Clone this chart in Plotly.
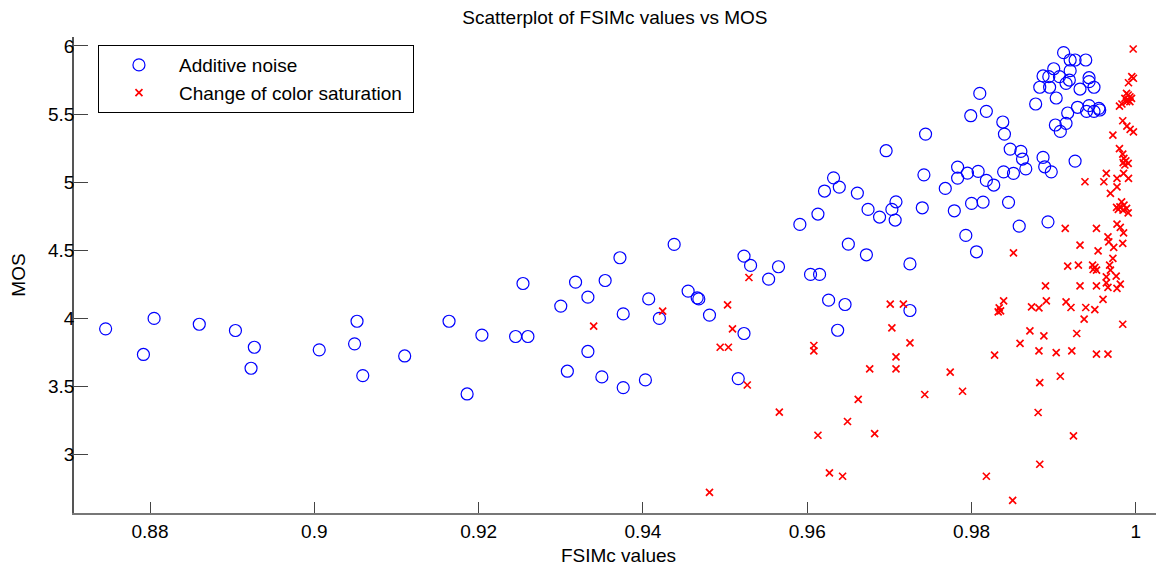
import plotly.graph_objects as go

# ---- data ----
noise_fsim = [
    0.8746, 0.8792, 0.8805, 0.8860, 0.8904, 0.8927, 0.8923, 0.9006, 0.9052, 0.9049,
    0.9059, 0.9110, 0.9164, 0.9204, 0.9186,
    0.9254, 0.9245, 0.9260, 0.9300, 0.9318, 0.9333, 0.9354, 0.9372, 0.9376, 0.9333,
    0.9308, 0.9350, 0.9376, 0.9403, 0.9407, 0.9438, 0.9420, 0.9455, 0.9466, 0.9468,
    0.9481, 0.9523, 0.9531, 0.9553, 0.9565, 0.9523, 0.9516,
    0.9799, 0.9818, 0.9744, 0.9696, 0.9632, 0.9639, 0.9621, 0.9661, 0.9742, 0.9783,
    0.9783, 0.9795, 0.9808, 0.9818, 0.9827, 0.9768, 0.9708, 0.9703, 0.9707, 0.9674,
    0.9688, 0.9740, 0.9779, 0.9800, 0.9814, 0.9793, 0.9806, 0.9613, 0.9591, 0.9650,
    0.9672, 0.9604, 0.9615, 0.9725, 0.9626, 0.9646, 0.9637, 0.9725,
    0.9912, 0.9920, 0.9926, 0.9939, 0.9900, 0.9887, 0.9894, 0.9907, 0.9920, 0.9919,
    0.9915, 0.9883, 0.9895, 0.9943, 0.9943, 0.9949, 0.9932, 0.9903, 0.9878, 0.9917,
    0.9929, 0.9943, 0.9940, 0.9949, 0.9955, 0.9956, 0.9902, 0.9915, 0.9908, 0.9810,
    0.9838, 0.9840, 0.9847, 0.9860, 0.9862, 0.9866, 0.9887, 0.9889, 0.9897, 0.9926,
    0.9839, 0.9851,
    0.9845, 0.9858, 0.9893,
]
noise_mos = [
    3.923, 3.735, 4.000, 3.957, 3.911, 3.788, 3.634, 3.769, 3.979, 3.813,
    3.580, 3.724, 3.979, 3.877, 3.445,
    4.256, 3.867, 3.867, 4.090, 4.266, 4.156, 4.278, 4.445, 4.033, 3.757,
    3.612, 3.570, 3.492, 3.548, 4.143, 4.543, 4.000, 4.200, 4.151, 4.143,
    4.024, 4.457, 4.389, 4.288, 4.379, 3.889, 3.558,
    5.488, 5.520, 5.353, 5.231, 5.032, 4.964, 4.935, 4.920, 5.054, 5.111,
    5.030, 5.067, 5.079, 5.013, 4.979, 4.954, 4.856, 4.800, 4.722, 4.800,
    4.744, 4.812, 4.790, 4.844, 4.854, 4.609, 4.489, 4.766, 4.690, 4.545,
    4.467, 4.323, 4.323, 4.400, 4.134, 4.102, 3.913, 4.058,
    5.951, 5.897, 5.897, 5.897, 5.833, 5.780, 5.775, 5.775, 5.819, 5.750,
    5.726, 5.697, 5.697, 5.767, 5.738, 5.697, 5.684, 5.618, 5.574, 5.508,
    5.550, 5.562, 5.520, 5.520, 5.542, 5.530, 5.420, 5.432, 5.373, 5.652,
    5.442, 5.353, 5.243, 5.226, 5.170, 5.098, 5.182, 5.113, 5.076, 5.155,
    5.076, 5.065,
    4.852, 4.677, 4.709,
]

sat_fsim = [
    0.9340, 0.9424, 0.9529, 0.9503, 0.9509, 0.9494, 0.9504, 0.9527, 0.9566, 0.9481,
    0.9701, 0.9717, 0.9703, 0.9725, 0.9708, 0.9708, 0.9676, 0.9608, 0.9608, 0.9662,
    0.9649, 0.9613, 0.9682, 0.9627, 0.9643, 0.9743, 0.9774, 0.9789, 0.9818, 0.9828,
    0.99967, 0.9995, 0.9997, 0.9991,
    0.99886, 0.99906, 0.99927, 0.99866, 0.99906, 0.99947, 0.99886, 0.99927,
    0.9983, 0.9980, 0.9984, 0.9989, 0.9993, 0.9997, 0.9972, 0.9980, 0.9984,
    0.99854, 0.99878, 0.99845, 0.99906, 0.99866,
    0.9964, 0.9985,
    0.9938, 0.9961, 0.9977, 0.9991, 0.9977, 0.9969,
    0.99826, 0.99765, 0.99806, 0.99855, 0.99887, 0.99843, 0.99906, 0.99786,
    0.9977, 0.9981, 0.9985, 0.9966, 0.9952, 0.9914, 0.9967, 0.9973, 0.9984, 0.9932,
    0.9954, 0.9851, 0.9972, 0.9917, 0.9930,
    0.99473, 0.99501, 0.99480, 0.99521,
    0.9968, 0.9969, 0.9964, 0.9976, 0.9964, 0.9981, 0.9977, 0.9966, 0.9890, 0.9932,
    0.9952, 0.9960, 0.9891, 0.9839,
    0.98336, 0.98353, 0.98324,
    0.9873, 0.9882, 0.9915, 0.9921, 0.9939, 0.9950, 0.9937, 0.9984, 0.9871, 0.9888,
    0.9928,
    0.9859, 0.9882, 0.9903, 0.9922, 0.9952, 0.9966, 0.9908, 0.9883, 0.9881, 0.9924,
    0.9883, 0.9850,
]
sat_mos = [
    3.943, 4.053, 4.300, 4.099, 3.923, 3.788, 3.788, 3.511, 3.311, 2.723,
    4.104, 4.104, 3.930, 3.820, 3.717, 3.629, 3.629, 3.801, 3.761, 3.406,
    3.243, 3.142, 3.154, 2.865, 2.841, 3.441, 3.605, 3.465, 2.841, 3.730,
    5.978, 5.775, 5.763, 5.730,
    5.652, 5.640, 5.627, 5.616, 5.603, 5.616, 5.591, 5.591,
    5.574, 5.559, 5.451, 5.412, 5.388, 5.370, 5.346, 5.246, 5.206,
    5.175, 5.157, 5.143, 5.138, 5.126,
    5.065, 5.065,
    5.003, 5.003, 5.028, 5.028, 4.966, 4.918,
    4.856, 4.815, 4.819, 4.832, 4.807, 4.795, 4.775, 4.800,
    4.692, 4.668, 4.628, 4.599, 4.661, 4.661, 4.562, 4.521, 4.550, 4.538,
    4.496, 4.481, 4.440, 4.384, 4.391,
    4.391, 4.374, 4.359, 4.354,
    4.391, 4.354, 4.305, 4.310, 4.261, 4.251, 4.220, 4.227, 4.239, 4.239,
    4.239, 4.139, 4.129, 4.129,
    4.077, 4.055, 4.048,
    4.085, 4.077, 4.121, 4.080, 4.080, 4.065, 3.994, 3.957, 3.908, 3.871,
    3.889,
    3.816, 3.761, 3.749, 3.761, 3.737, 3.737, 3.575, 3.529, 3.309, 3.137,
    2.929, 2.664,
]

x_ticks = [0.88, 0.90, 0.92, 0.94, 0.96, 0.98, 1.00]
x_tick_labels = ["0.88", "0.9", "0.92", "0.94", "0.96", "0.98", "1"]
y_ticks = [3, 3.5, 4, 4.5, 5, 5.5, 6]
y_tick_labels = ["3", "3.5", "4", "4.5", "5", "5.5", "6"]

FONT = "Liberation Sans, Arial, sans-serif"

fig = go.Figure()
fig.add_trace(go.Scatter(
    x=noise_fsim, y=noise_mos, mode="markers", name="Additive noise",
    marker=dict(symbol="circle-open", size=12, color="#0000ff",
                line=dict(width=1.2, color="#0000ff")),
))
fig.add_trace(go.Scatter(
    x=sat_fsim, y=sat_mos, mode="markers",
    name="Change of color saturation\u00a0",
    marker=dict(symbol="x-thin-open", size=7, color="#ff0000",
                line=dict(width=1.7, color="#ff0000")),
))

# the page body has an 8px default margin, so the figure is sized/placed to compensate
fig.update_layout(
    width=1156, height=561,
    margin=dict(l=66, r=1, t=29, b=56),
    paper_bgcolor="white", plot_bgcolor="white",
    font=dict(family=FONT, size=19, color="black"),
    title=dict(text="Scatterplot of FSIMc values vs MOS", x=0.525, xanchor="center",
               y=0.983, yanchor="middle", font=dict(size=19, family=FONT, color="black")),
    showlegend=True,
    legend=dict(x=0.022, y=0.983, xanchor="left", yanchor="top",
                bgcolor="white", bordercolor="black", borderwidth=1,
                font=dict(size=19, family=FONT, color="black"), itemwidth=70,
                tracegroupgap=0),
)
fig.update_xaxes(
    range=[0.87075, 1.0033], tickvals=x_ticks, ticktext=x_tick_labels,
    ticks="inside", ticklen=11, tickcolor="#444", tickwidth=1,
    showline=True, linecolor="#777", linewidth=1.5, mirror=False,
    showgrid=False, zeroline=False,
    tickfont=dict(size=19, family=FONT, color="black"),
    ticklabelstandoff=0,
    title=dict(text="FSIMc values", font=dict(size=19, family=FONT, color="black"), standoff=8),
)
fig.update_yaxes(
    range=[2.571, 6.066], tickvals=y_ticks, ticktext=y_tick_labels,
    ticks="inside", ticklen=14, tickcolor="#444", tickwidth=1,
    showline=True, linecolor="#555", linewidth=1.5, mirror=False,
    showgrid=False, zeroline=False,
    tickfont=dict(size=19, family=FONT, color="black"),
    ticklabelstandoff=-6,
    title=dict(text="MOS", font=dict(size=19, family=FONT, color="black"), standoff=20),
)

fig.write_html("out.html")
